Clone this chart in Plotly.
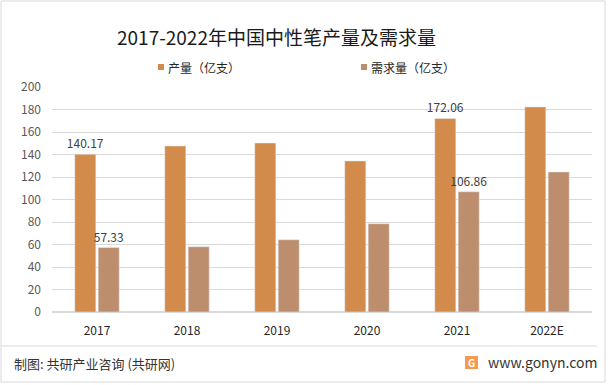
import plotly.graph_objects as go

years = ["2017", "2018", "2019", "2020", "2021", "2022E"]
production = [140.17, 147.6, 150.2, 134.3, 172.06, 182.3]
demand = [57.33, 58.0, 64.2, 78.5, 106.86, 124.5]
prod_labels = ["140.17", "", "", "", "172.06", ""]
dem_labels = ["57.33", "", "", "", "106.86", ""]
name_prod = "产量（亿支）"
name_dem = "需求量（亿支）"
title_text = "2017-2022年中国中性笔产量及需求量"
source_text = "制图: 共研产业咨询 (共研网)"
site_text = "www.gonyn.com"

C_PROD = "#D38B4C"
C_DEM = "#BD8E6E"
FONT = "Noto Sans CJK SC"

W, H = 611, 385
L, R, T, B = 52, 19, 87, 73
PW, PH = W - L - R, H - T - B

fig = go.Figure()
for vals, nm, col, lab in [(production, name_prod, C_PROD, prod_labels),
                           (demand, name_dem, C_DEM, dem_labels)]:
    fig.add_trace(go.Bar(x=years, y=vals, name=nm, marker_color=col,
                         text=lab, textposition="outside", cliponaxis=False,
                         constraintext="none",
                         textfont=dict(size=12, color="#404040", family=FONT)))

def px(x):
    return (x - L) / PW

def py(y):
    return (H - B - y) / PH

shapes = [
    dict(type="rect", xref="paper", yref="paper",
         x0=px(1), x1=px(605), y0=py(382), y1=py(1),
         line=dict(color="#D9D9D9", width=1)),
    dict(type="line", xref="paper", yref="paper",
         x0=px(1), x1=px(597), y0=py(346), y1=py(346),
         line=dict(color="#D9D9D9", width=1)),
    dict(type="rect", xref="paper", yref="paper",
         x0=px(158), x1=px(164), y0=py(70), y1=py(64),
         fillcolor=C_PROD, line=dict(width=0)),
    dict(type="rect", xref="paper", yref="paper",
         x0=px(361), x1=px(367), y0=py(70), y1=py(64),
         fillcolor=C_DEM, line=dict(width=0)),
    dict(type="rect", xref="paper", yref="paper",
         x0=px(465), x1=px(478), y0=py(369), y1=py(356),
         fillcolor="#F59A4E", line=dict(width=0)),
]

annotations = [
    dict(text=title_text, xref="paper", yref="paper", x=px(276), y=py(37),
         xanchor="center", yanchor="middle", showarrow=False,
         font=dict(size=19, color="#1a1a1a", family=FONT)),
    dict(text=name_prod, xref="paper", yref="paper", x=px(166), y=py(67),
         xanchor="left", yanchor="middle", showarrow=False,
         font=dict(size=12, color="#262626", family=FONT)),
    dict(text=name_dem, xref="paper", yref="paper", x=px(369), y=py(67),
         xanchor="left", yanchor="middle", showarrow=False,
         font=dict(size=12, color="#262626", family=FONT)),
    dict(text=source_text, xref="paper", yref="paper", x=px(12), y=py(363),
         xanchor="left", yanchor="middle", showarrow=False,
         font=dict(size=13, color="#333333", family=FONT)),
    dict(text=site_text, xref="paper", yref="paper", x=px(486), y=py(362),
         xanchor="left", yanchor="middle", showarrow=False,
         font=dict(size=14, color="#333333", family=FONT)),
    dict(text="<b>G</b>", xref="paper", yref="paper", x=px(471.5), y=py(362.5),
         xanchor="center", yanchor="middle", showarrow=False,
         font=dict(size=10, color="#FFFFFF", family=FONT)),
]

fig.update_layout(
    width=W, height=H,
    margin=dict(l=L, r=R, t=T, b=B),
    paper_bgcolor="white", plot_bgcolor="white",
    barmode="group", bargap=0.48, bargroupgap=0.1,
    showlegend=False,
    shapes=shapes, annotations=annotations,
    font=dict(family=FONT),
    xaxis=dict(showgrid=False, showline=True, linecolor="#D9D9D9", ticks="",
               tickfont=dict(size=12, color="#262626", family=FONT),
               ticklabelstandoff=8),
    yaxis=dict(range=[0, 200], dtick=20, showgrid=True, gridcolor="#D9D9D9",
               zeroline=True, zerolinecolor="#D9D9D9", ticks="",
               tickfont=dict(size=12, color="#595959", family=FONT),
               ticklabelstandoff=10),
)

fig.write_html("out.html", config={"displayModeBar": False},
               post_script="document.body.style.margin='0';document.body.style.overflow='hidden';")
